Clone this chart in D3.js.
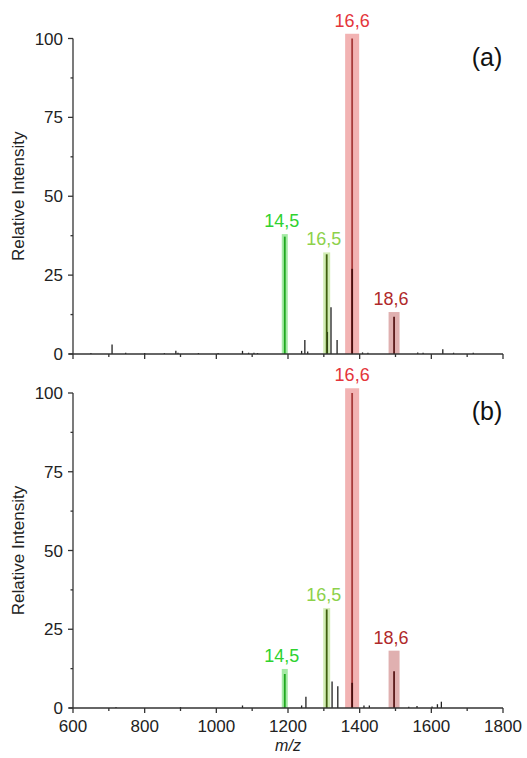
<!DOCTYPE html>
<html>
<head>
<meta charset="utf-8">
<script src="https://cdn.jsdelivr.net/npm/d3@7"></script>
<style>
  body { margin: 0; background: #fff; }
  text { font-family: "Liberation Sans", Arial, sans-serif; }
</style>
</head>
<body>
<script>
// x ticks (m/z)
const xTicks = [600, 800, 1000, 1200, 1400, 1600, 1800]
const yTicks = [0, 25, 50, 75, 100]

// small unlabelled peaks [m/z, intensity]
const noiseA = [[650, 0.3], [709, 3], [747, 0.4], [800, 0.3], [855, 0.3], [887, 1], [893, 0.4],
  [950, 0.3], [1005, 0.3], [1073, 1], [1090, 0.4], [1105, 0.4], [1115, 0.3], [1238, 1],
  [1247, 4.4], [1255, 0.8], [1310, 7], [1320, 14.8], [1337, 4.4], [1408, 0.5], [1423, 0.4],
  [1562, 0.5], [1577, 0.4], [1632, 1.5], [1662, 0.4], [1717, 0.4]]
const noiseB = [[720, 0.3], [900, 0.3], [1073, 0.8], [1238, 0.8], [1250, 3.6], [1323, 8.4],
  [1339, 6.9], [1412, 0.8], [1427, 0.8], [1537, 0.4], [1560, 0.6], [1602, 0.5], [1617, 1.2],
  [1628, 2]]

// labelled peaks: label, m/z, peak intensity, highlight top, inner dark part
const labels = ["14,5", "16,5", "16,6", "18,6"]
const peakMz = [1191, 1308, 1379, 1496]
const peakA = [37.2, 31.6, 100, 11.8]
const boxA = [38, 32.2, 101.5, 13.3]
const innerA = [0, 0, 27, 0]
const peakB = [10.8, 31.3, 100, 11.7]
const boxB = [12.4, 31.7, 101.5, 18.2]
const innerB = [0, 0, 8, 0]

const labelColor = ["#2fd22f", "#8dd14a", "#e4353b", "#b02a2a"]
const boxColor = ["#a4eaa4", "#d2edb4", "#f2b3b3", "#e0b0b0"]
const lineColor = ["#1fa81f", "#3f5f10", "#a83a3a", "#5a1818"]
const boxW = [6, 7, 14, 11] // px

const width = 527, height = 758
const x = d3.scaleLinear().domain([600, 1800]).range([73, 503])

const svg = d3.select("body").append("svg")
  .attr("width", width)
  .attr("height", height)
  .attr("viewBox", [0, 0, width, height])

function panel(y0, y100, noise, peaks, boxes, inner, tag, showX) {
  const y = d3.scaleLinear().domain([0, 100]).range([y0, y100])
  const g = svg.append("g")

  // highlight boxes
  g.selectAll("rect.hl")
    .data(d3.range(labels.length))
    .join("rect")
    .attr("x", i => x(peakMz[i]) - boxW[i] / 2)
    .attr("width", i => boxW[i])
    .attr("y", i => y(boxes[i]))
    .attr("height", i => y(0) - y(boxes[i]))
    .attr("fill", (i) => boxColor[i])

  // noise sticks
  g.selectAll("line.noise")
    .data(noise)
    .join("line")
    .attr("x1", d => x(d[0])).attr("x2", d => x(d[0]))
    .attr("y1", y(0)).attr("y2", d => y(d[1]))
    .attr("stroke", "#222")
    .attr("stroke-width", 1.3)

  // labelled sticks
  g.selectAll("line.pk")
    .data(d3.range(labels.length))
    .join("line")
    .attr("x1", i => x(peakMz[i])).attr("x2", i => x(peakMz[i]))
    .attr("y1", y(0)).attr("y2", i => y(peaks[i]))
    .attr("stroke", i => lineColor[i])
    .attr("stroke-width", 1.8)

  g.selectAll("line.inner")
    .data(d3.range(labels.length).filter(i => inner[i] > 0))
    .join("line")
    .attr("x1", i => x(peakMz[i])).attr("x2", i => x(peakMz[i]))
    .attr("y1", y(0)).attr("y2", i => y(inner[i]))
    .attr("stroke", "#4a0e0e")
    .attr("stroke-width", 1.8)

  // peak labels
  g.selectAll("text.lab")
    .data(d3.range(labels.length))
    .join("text")
    .attr("x", i => x(peakMz[i]) - (i == 2 ? 0 : 3))
    .attr("y", i => y(boxes[i]) - 7)
    .attr("text-anchor", "middle")
    .attr("font-size", 18)
    .attr("fill", i => labelColor[i])
    .text(i => labels[i])

  // x axis
  const minorX = d3.range(600, 1801, 100).filter(v => !xTicks.includes(v))
  g.append("line")
    .attr("x1", x(600) - 4).attr("x2", x(1800))
    .attr("y1", y0).attr("y2", y0)
    .attr("stroke", "#333").attr("stroke-width", 1.3)
  g.selectAll("line.xt")
    .data(xTicks.concat(minorX))
    .join("line")
    .attr("x1", d => x(d)).attr("x2", d => x(d))
    .attr("y1", y0).attr("y2", d => y0 + (xTicks.includes(d) ? 5 : 3))
    .attr("stroke", "#333").attr("stroke-width", 1.3)
  if (showX) {
    g.selectAll("text.xl")
      .data(xTicks)
      .join("text")
      .attr("x", d => x(d))
      .attr("y", y0 + 24)
      .attr("text-anchor", "middle")
      .attr("font-size", 17)
      .attr("fill", "#222")
      .text(d => d)
  }

  // y axis
  const minorY = [12.5, 37.5, 62.5, 87.5]
  g.append("line")
    .attr("x1", x(600)).attr("x2", x(600))
    .attr("y1", y(0)).attr("y2", y(100))
    .attr("stroke", "#333").attr("stroke-width", 1.3)
  g.selectAll("line.yt")
    .data(yTicks.concat(minorY))
    .join("line")
    .attr("x1", d => x(600) - (yTicks.includes(d) ? 5 : 2.5)).attr("x2", x(600))
    .attr("y1", d => y(d)).attr("y2", d => y(d))
    .attr("stroke", "#333").attr("stroke-width", 1.3)
  g.selectAll("text.yl")
    .data(yTicks)
    .join("text")
    .attr("x", x(600) - 10)
    .attr("y", d => y(d) + 6)
    .attr("text-anchor", "end")
    .attr("font-size", 17)
    .attr("fill", "#222")
    .text(d => d)

  g.append("text")
    .attr("transform", `translate(24,${(y0 + y100) / 2}) rotate(-90)`)
    .attr("text-anchor", "middle")
    .attr("font-size", 17)
    .attr("fill", "#222")
    .text("Relative Intensity")

  g.append("text")
    .attr("x", 487)
    .attr("y", y100 + 27)
    .attr("text-anchor", "middle")
    .attr("font-size", 25)
    .attr("fill", "#111")
    .text(tag)
}

panel(354, 38.5, noiseA, peakA, boxA, innerA, "(a)", false)
panel(708, 393, noiseB, peakB, boxB, innerB, "(b)", true)

svg.append("text")
  .attr("x", x(1200))
  .attr("y", 751)
  .attr("text-anchor", "middle")
  .attr("font-size", 16)
  .attr("font-style", "italic")
  .attr("fill", "#222")
  .text("m/z")
</script>
</body>
</html>
